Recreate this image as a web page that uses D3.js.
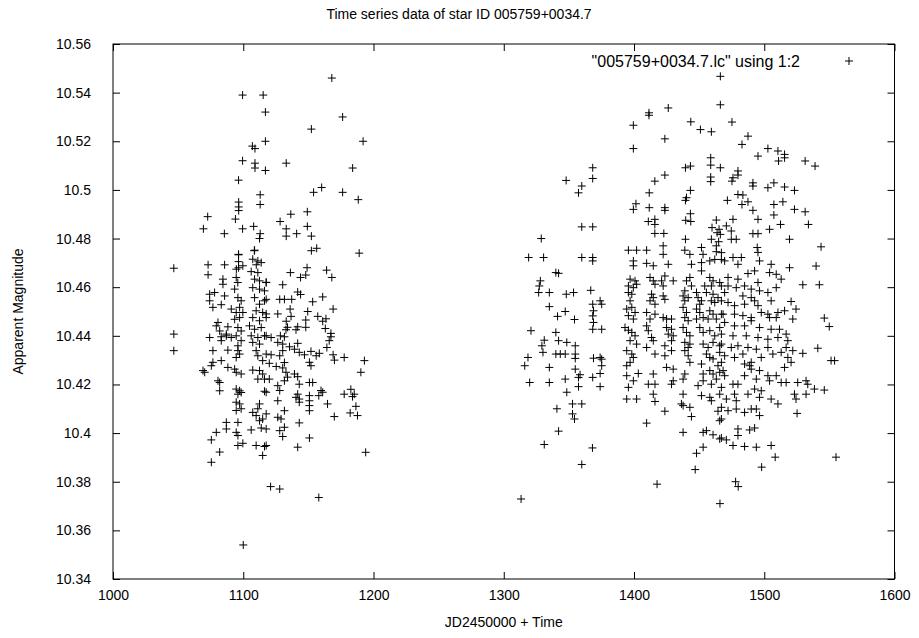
<!DOCTYPE html>
<meta charset="utf-8">
<style>
    body { margin: 0; background: #fff; }
    svg { display: block; font-family: "Liberation Sans", Arial, sans-serif; }
    .frame { fill: none; stroke: #000; stroke-width: 1px; }
    .tick line { stroke: #000; }
    .tick text { font-size: 14px; fill: #000; }
    .pt { fill: none; stroke: #000; stroke-width: 1px; }
    .lbl { font-size: 14px; fill: #000; }
</style>
<svg width="919" height="638"></svg>
<script src="https://d3js.org/d3.v7.min.js"></script>
<script>
    // three observing seasons, [JD-2450000, magnitude]
    var season1 = [
        [1099.5,10.539],[1115.3,10.539],[1117,10.532],[1117,10.520],[1107,10.518],[1109,10.517],[1099.5,10.512],[1109,10.511],[1109,10.509],[1117,10.508],
        [1096.4,10.504],[1113,10.498],[1096.5,10.495],[1096.5,10.493],[1096.5,10.4915],[1113,10.494],[1072.7,10.489],[1094,10.488],[1069.4,10.484],[1085.5,10.482],
        [1099.5,10.484],[1108,10.485],[1113,10.482],[1112.5,10.480],[1096.4,10.4735],[1108.5,10.475],
        [1168,10.546],[1176.3,10.530],[1152.3,10.525],[1192,10.520],[1133,10.511],[1184,10.509],[1154,10.499],[1160.2,10.501],[1176.3,10.499],[1188.3,10.496],
        [1136.5,10.490],[1128.3,10.487],[1149.2,10.491],[1133,10.484],[1133,10.481],[1141,10.482],[1149.2,10.485],[1152.3,10.481],[1152.3,10.475],[1156.4,10.476],[1189,10.474],
        [1136.2,10.466],[1149,10.468],[1144,10.464],[1148,10.465],[1164,10.467],[1168,10.464],[1130.3,10.461],[1117.6,10.462],[1141.8,10.458],[1144,10.457],
        [1128,10.455],[1131.6,10.455],[1137.2,10.455],[1153.3,10.454],[1161,10.456],[1117.6,10.455],[1169,10.451],[1136,10.451],[1149.5,10.450],[1126.5,10.449],
        [1117.6,10.449],[1136.7,10.448],[1133,10.446],[1148,10.4465],[1157.2,10.448],[1163.5,10.447],[1161,10.446],[1134,10.4435],[1141.8,10.4437],[1148,10.4435],
        [1132.8,10.4425],[1140.5,10.4425],[1163,10.443],[1167.3,10.441],[1167.3,10.4396],[1166,10.438],[1128.5,10.440],[1117.6,10.440],[1121.4,10.4393],[1131.6,10.4396],
        [1126.5,10.4373],[1130.3,10.4366],[1135.5,10.4355],[1139.3,10.4345],[1130.3,10.4339],[1141.8,10.4369],[1143,10.4332],[1147,10.4322],[1164.2,10.4352],[1158.4,10.4328],
        [1156,10.4318],[1152,10.4336],[1169,10.4322],[1170,10.430],[1177.5,10.4311],[1193,10.4298],[1121.4,10.4322],[1128,10.4318],[1120,10.4287],[1131.6,10.429],
        [1125.3,10.4274],[1130.3,10.4268],[1150.8,10.4291],[1152,10.4277],[1190.3,10.425],[1132.8,10.425],[1139.3,10.4243],[1134,10.423],[1141.8,10.4232],[1120,10.4222],
        [1131.6,10.4215],[1150.8,10.4208],[1153.3,10.4208],[1143,10.4201],[1126.5,10.4195],[1128,10.4175],[1117.6,10.4168],[1141.8,10.416],[1140.5,10.4147],[1143,10.414],
        [1143,10.4127],[1159.7,10.4175],[1161,10.4168],[1158,10.4154],[1150.8,10.4154],[1150.8,10.4133],[1150.8,10.4113],[1177.5,10.416],[1182.6,10.418],[1185.2,10.416],
        [1183.9,10.415],[1164.7,10.412],[1186.5,10.411],[1182.1,10.4083],[1187.7,10.4072],[1169.9,10.4068],[1126.5,10.4133],[1131.6,10.4092],[1126.5,10.4065],[1129,10.4058],
        [1150.8,10.4092],[1143,10.4042],[1131.6,10.4024],[1128,10.401],[1130.3,10.3986],[1117.6,10.4079],[1117.6,10.4017],[1117.6,10.3949],[1150.8,10.398],[1141.8,10.3942],[1194,10.3921],
        [1046.7,10.4678],[1046.7,10.4407],[1046.7,10.4339],[1073,10.4692],[1073,10.4651],[1085.7,10.4692],[1096.4,10.4733],[1096.4,10.4705],[1096.4,10.468],[1094.7,10.4674],
        [1099.7,10.4688],[1108.7,10.4752],[1107.3,10.4715],[1111.2,10.4708],[1110,10.4692],[1113.8,10.4701],[1106.1,10.4664],[1111.2,10.466],
        [1084.4,10.4633],[1084.4,10.4612],[1094.6,10.464],[1095.8,10.4619],[1093.4,10.4592],[1108.7,10.4633],[1112.5,10.4626],[1117.6,10.4619],[1107.3,10.4598],[1112.5,10.4592],[1116.3,10.4585],
        [1074.2,10.4571],[1078,10.4578],[1085.7,10.4564],[1074.2,10.4544],[1076.7,10.4517],[1083.1,10.4528],[1090.8,10.451],
        [1095.9,10.4557],[1098.4,10.4544],[1097.2,10.4517],[1094.6,10.4496],[1099.7,10.4496],[1097.2,10.4475],[1093.4,10.4468],
        [1108.7,10.4557],[1112.5,10.453],[1116.3,10.4544],[1109.9,10.4503],[1114.9,10.4496],[1107.3,10.4475],[1112.5,10.4462],[1117.6,10.4475],
        [1080.6,10.4455],[1079.3,10.4441],[1081.9,10.442],[1088.2,10.4437],[1087,10.4407],[1083.1,10.4396],[1090.8,10.4393],
        [1095.9,10.4434],[1098.4,10.442],[1094.6,10.44],[1098.4,10.438],[1095.9,10.4359],
        [1104.8,10.4441],[1108.7,10.4427],[1113.8,10.4434],[1106.1,10.44],[1111.2,10.4393],[1116.3,10.44],[1107.3,10.4373],[1112.5,10.4366],
        [1074.2,10.4393],[1083.1,10.438],[1087,10.44],[1076.7,10.4339],[1088.2,10.4341],[1095.9,10.4339],[1097.2,10.4325],[1094.6,10.4311],
        [1109.9,10.4339],[1117.6,10.4325],[1111.2,10.4318],[1114.9,10.4298],
        [1083.1,10.4298],[1076.7,10.4291],[1075.5,10.4277],[1069.1,10.4257],[1070.4,10.425],[1088.2,10.427],[1093.4,10.4263],[1094.6,10.425],[1098.4,10.4243],
        [1107.3,10.4259],[1112.5,10.4257],[1114.9,10.4243],[1111.2,10.4222],[1116.3,10.4222],[1080.6,10.4215],[1081.9,10.4208],[1081.9,10.4174],
        [1094.6,10.4181],[1097.2,10.4174],[1095.9,10.416],[1098.4,10.4167],[1116.3,10.4172],[1094.6,10.4127],[1097.2,10.412],[1094.6,10.4093],[1098.4,10.41],
        [1107.3,10.4085],[1111.2,10.41],[1112.5,10.412],[1109.9,10.4072],[1114.9,10.4058],[1112.5,10.4051],
        [1087,10.4044],[1087,10.4017],[1095.9,10.4044],[1079.3,10.4003],[1075.5,10.3972],[1094.6,10.4003],[1095.9,10.399],[1106.1,10.4013],[1113.8,10.4021],
        [1095.9,10.3949],[1099.7,10.3958],[1109.9,10.3949],[1116.3,10.3945],[1114.9,10.3908],[1081.9,10.3922],[1075.5,10.388],
        [1121,10.378],[1128,10.377],[1158,10.3735],[1100,10.354]
    ];

    var season2 = [
        [1368.3,10.5091],[1368.3,10.5047],[1347.9,10.5039],[1359.9,10.5016],[1357.4,10.4988],[1359.9,10.4848],[1368.3,10.4848],[1328.8,10.48],
        [1319.1,10.4722],[1330.6,10.4722],[1359.9,10.4722],[1368.3,10.4722],[1368.3,10.4708],[1340,10.466],[1342.1,10.4657],
        [1328.1,10.4626],[1327.3,10.4605],[1326.8,10.4578],[1335,10.4578],[1348,10.4571],[1353.6,10.4578],[1366.8,10.4587],
        [1335,10.452],[1374,10.4544],[1375.2,10.453],[1368.3,10.453],[1368.9,10.4503],[1347.2,10.45],[1341.3,10.448],[1354.3,10.4467],
        [1368.3,10.4482],[1368.9,10.4455],[1368.3,10.4427],[1375.2,10.4427],
        [1320.9,10.4421],[1340,10.4414],[1331.1,10.4382],[1342.1,10.438],[1348.4,10.4373],[1329.3,10.4359],[1354.9,10.4359],
        [1330.1,10.4332],[1340,10.4325],[1343.4,10.4325],[1347.2,10.4325],[1354.9,10.4325],[1354.9,10.4307],[1374,10.4311],[1368.9,10.4308],[1375.2,10.4304],
        [1318.6,10.4311],[1316.1,10.4277],[1335,10.427],[1354.9,10.4263],[1375.2,10.4277],[1374,10.4245],[1358.6,10.424],[1357.4,10.4229],[1368.3,10.4229],
        [1319.9,10.4208],[1335,10.4208],[1347.2,10.4222],[1357.4,10.4191],[1374,10.4191],[1348.4,10.4168],
        [1352.8,10.412],[1359.9,10.412],[1340.8,10.41],[1352.8,10.4079],[1354.3,10.4058],[1342.1,10.4008],[1331.1,10.3953],[1368.1,10.3939],[1359.9,10.3871],[1313.3,10.3729]
    ];

    var season3 = [
        [1466.3,10.5467],[1466.3,10.535],[1426.3,10.5337],[1411.5,10.5317],[1411.5,10.5307],[1399.5,10.5266],[1443.6,10.528],[1451,10.5248],[1459.4,10.5239],[1423.7,10.521],
        [1399.5,10.517],[1458.9,10.5132],[1458.9,10.5102],[1466.3,10.5091],[1439.5,10.5091],[1443.3,10.5098],[1458.9,10.5053],[1458.9,10.5034],[1416,10.5036],[1423.7,10.5061],
        [1411.7,10.4988],[1443.3,10.4998],[1440.3,10.4968],[1439.5,10.4957],[1401.5,10.4943],[1399.5,10.492],[1411.7,10.4927],[1423.7,10.4927],[1423.7,10.4916],[1443.3,10.4902],
        [1439.7,10.4875],[1443.6,10.487],[1416,10.4879],[1411,10.487],[1416,10.4858],[1463.2,10.4876],[1459.9,10.4845],[1465.3,10.4838],[1463.8,10.4824],[1466.3,10.4817],
        [1416,10.4821],[1422.9,10.4821],[1439.5,10.4797],[1459.4,10.4797],[1465,10.4787],[1463.2,10.477],[1395.7,10.4752],[1402,10.4752],[1409.7,10.4752],[1422.4,10.477],
        [1422.4,10.4735],[1439,10.4752],[1442.9,10.4735],[1451.8,10.4763],[1453,10.4735],[1463.2,10.4746],
        [1399.5,10.4708],[1399.5,10.4688],[1409.7,10.4698],[1414.8,10.4688],[1426.3,10.4694],[1444.1,10.4694],[1451.8,10.4701],[1451.8,10.4667],[1458.2,10.4708],[1462,10.4714],[1467.1,10.4714],
        [1397,10.4633],[1400.8,10.4626],[1402,10.4612],[1395.7,10.4605],[1399.5,10.4598],[1412.3,10.464],[1414.8,10.4626],[1416.1,10.4612],[1423.7,10.4646],[1421.2,10.4626],
        [1422.4,10.4605],[1430.1,10.4626],[1442.9,10.464],[1440.3,10.4626],[1444.1,10.4605],[1458.2,10.464],[1460.7,10.4626],[1459.4,10.4605],[1465.8,10.4619],[1454.3,10.4605],
        [1395.7,10.4578],[1398.3,10.4571],[1397,10.4544],[1413.5,10.4571],[1414.8,10.4557],[1412.3,10.4544],[1422.4,10.4564],[1423.7,10.455],[1416.1,10.453],[1439,10.4585],
        [1437.7,10.4564],[1441.6,10.4557],[1439,10.4544],[1448,10.4578],[1449.2,10.4557],[1451.8,10.4544],[1450.5,10.453],[1455.6,10.4578],[1460.7,10.4571],[1464.5,10.4557],[1459.4,10.4544],[1462,10.4537],
        [1394.4,10.451],[1398.3,10.4517],[1400.8,10.4496],[1395.7,10.4483],[1399.5,10.4469],[1409.7,10.4496],[1416.1,10.4489],[1412.3,10.4469],[1422.4,10.4475],[1425,10.4469],
        [1428.8,10.4469],[1437.7,10.4517],[1440.3,10.4496],[1439,10.4475],[1441.6,10.4462],[1448,10.451],[1450.5,10.4496],[1453.1,10.4475],[1448,10.4469],[1458.2,10.4503],
        [1460.7,10.4489],[1463.2,10.4469],[1456.9,10.4469],[1467.1,10.4489],
        [1393.1,10.4434],[1395.7,10.4423],[1398.3,10.4414],[1400.8,10.44],[1409.7,10.4441],[1411,10.4421],[1413.5,10.4393],[1425,10.4434],[1428.8,10.4427],[1426.3,10.4407],
        [1430.1,10.44],[1437.7,10.4434],[1440.3,10.4414],[1442.9,10.44],[1450.5,10.4434],[1453.1,10.4414],[1458.2,10.4421],[1462,10.44],[1465.8,10.4434],[1467.1,10.4407],
        [1397,10.438],[1402,10.4366],[1409.7,10.4352],[1414.8,10.438],[1423.7,10.4359],[1428.8,10.438],[1439,10.4373],[1441.6,10.4352],[1442.9,10.4366],[1453.1,10.4366],
        [1456.9,10.4352],[1460.7,10.4373],[1465.8,10.4359],
        [1394.4,10.4339],[1398.3,10.4325],[1399.5,10.4311],[1397,10.4291],[1394.4,10.4277],[1416.1,10.4325],[1423.7,10.4318],[1428.8,10.4339],[1439,10.4339],[1441.6,10.4318],
        [1442.9,10.4291],[1455.6,10.4325],[1458.2,10.4311],[1460.7,10.4305],[1451.8,10.4284],[1465.8,10.4332],[1467.1,10.4291],[1464.5,10.4277],
        [1425,10.427],[1430.1,10.4263],[1403.3,10.4245],[1414.8,10.4243],[1394.4,10.4236],[1399.5,10.4215],[1411,10.4201],[1416.1,10.4201],[1430.1,10.4215],[1428.8,10.4201],
        [1439,10.4243],[1437.7,10.4222],[1453.1,10.4243],[1458.2,10.4257],[1460.7,10.4243],[1465.8,10.425],[1395.7,10.4188],[1449.2,10.4195],[1453.1,10.4215],[1463.2,10.4222],[1459.4,10.4201],
        [1394.4,10.414],[1402,10.414],[1414.8,10.416],[1416.1,10.413],[1437.7,10.416],[1436.4,10.412],[1451.8,10.4154],[1458.2,10.4147],[1459.4,10.4133],[1465.8,10.416],
        [1423.7,10.409],[1437.7,10.4113],[1442.9,10.4106],[1444.1,10.4068],[1409.7,10.4041],[1464.5,10.409],[1465.8,10.4051],[1437.7,10.4003],[1453.1,10.4003],[1455.6,10.401],
        [1460.7,10.3993],[1465.8,10.3976],[1453.1,10.3942],[1448,10.3917],
        [1475.2,10.5279],[1487.5,10.5221],[1482.9,10.5187],[1502.8,10.517],[1495.2,10.5139],[1510.5,10.516],[1515.6,10.5146],[1511,10.5119],[1515.6,10.5132],[1531.4,10.5119],
        [1539,10.5098],[1479.8,10.5078],[1479.8,10.5061],[1475.2,10.5036],[1476,10.505],[1491.3,10.5029],[1491.3,10.5016],[1502.8,10.5009],[1507.4,10.5029],[1515.6,10.5012],
        [1523.2,10.4998],[1479.8,10.4981],[1483.6,10.4979],[1471.7,10.4957],[1482.9,10.494],[1487.5,10.4951],[1491.3,10.4916],[1507.4,10.494],[1514.3,10.4951],[1523.2,10.492],
        [1531.4,10.491],[1533.9,10.4858],[1507.4,10.4897],[1512.5,10.4858],[1504.1,10.4838],[1495.2,10.4879],[1476,10.4879],[1470.9,10.4852],[1474.7,10.4831],[1474.7,10.4797],
        [1478.5,10.4797],[1491.3,10.482],[1495.2,10.482],[1519.4,10.4797],[1543.6,10.4766],[1494.6,10.4763],[1495.2,10.4743],
        [1467.1,10.4742],[1476,10.4722],[1482.4,10.4722],[1496.4,10.4708],[1469.6,10.4708],[1479.8,10.4694],
        [1505.3,10.4694],[1519.4,10.468],[1539.8,10.4687],[1487.5,10.4656],[1492.6,10.4667],[1504.1,10.466],[1509.2,10.4653],[1513,10.4633],[1472.2,10.464],[1479.8,10.4633],
        [1495.2,10.4619],[1529.6,10.461],[1542.3,10.461],
        [1467.1,10.4605],[1472.2,10.4605],[1478.5,10.4598],[1484.9,10.4605],[1490,10.4592],[1496.4,10.4585],[1502.8,10.4578],[1509.2,10.4598],[1469.6,10.4578],[1483.6,10.4564],[1490,10.4557],
        [1467.1,10.4544],[1472.2,10.4537],[1477.2,10.4524],[1484.9,10.453],[1492.6,10.4544],[1495.2,10.4524],[1505.3,10.4544],[1520.6,10.4541],[1524.4,10.451],[1510.5,10.4496],
        [1515.6,10.4503],[1497.7,10.4496],[1502.8,10.4489],[1504.1,10.4475],[1509.2,10.4475],[1521.9,10.4469],[1546.1,10.4473],[1549.9,10.4438],
        [1468.4,10.4489],[1477.2,10.4489],[1483.6,10.4483],[1490,10.4475],[1469.6,10.4455],[1477.2,10.4441],[1484.9,10.4441],[1490,10.4462],[1496.4,10.4434],[1505.3,10.4427],
        [1511.7,10.4427],[1516.8,10.4407],[1476,10.44],[1486.2,10.44],[1495.2,10.4393],[1502.8,10.4386],[1510.5,10.4393],[1518.1,10.438],
        [1467.1,10.4366],[1474.7,10.4352],[1479.8,10.4359],[1487.5,10.4352],[1493.9,10.4345],[1502.8,10.4352],[1516.8,10.4352],[1521.9,10.4339],[1529.6,10.4328],[1541.1,10.4349],
        [1551.3,10.4298],[1554,10.4298],[1469.6,10.4318],[1477.2,10.4311],[1483.6,10.4325],[1490,10.4291],[1497.7,10.4311],[1506.6,10.4325],[1513,10.4332],[1518.1,10.4311],
        [1520.6,10.4291],[1515.6,10.427],
        [1468.4,10.4257],[1484.9,10.4284],[1488.8,10.4277],[1490,10.4263],[1496.4,10.4257],[1469.6,10.4236],[1484.9,10.4236],[1493.9,10.4222],[1502.8,10.4236],[1509.2,10.4236],
        [1504.1,10.4215],[1513,10.4208],[1516.8,10.4208],[1525.7,10.4208],[1532.1,10.4215],[1533.4,10.4201],[1476,10.4201],[1479.8,10.4201],[1467.1,10.4188],[1492.6,10.4181],
        [1497.7,10.4174],[1477.2,10.416],[1487.5,10.416],[1470.9,10.414],[1478.5,10.4133],[1496.4,10.4147],[1505.3,10.414],[1523.2,10.416],[1532.1,10.416],[1538.5,10.4181],
        [1546.1,10.4177],[1524.4,10.414],[1510.5,10.412],
        [1467.1,10.4106],[1472.2,10.4092],[1478.5,10.4099],[1484.9,10.4085],[1490,10.4099],[1496.4,10.4072],[1493.9,10.4099],[1467.1,10.4058],[1525.2,10.4081],[1479.8,10.4017],
        [1488.8,10.4013],[1492.6,10.4021],[1479.8,10.399],[1467.1,10.398],[1470.9,10.3972],[1476,10.3949],[1484.9,10.3945],[1493.9,10.3942],[1505.3,10.3949],[1508.4,10.3901],[1555.1,10.3901],
        [1417.7,10.379],[1447,10.385],[1478,10.380],[1480,10.378],[1466,10.371],[1498,10.386]
    ];

    var xTicks = [1000, 1100, 1200, 1300, 1400, 1500, 1600];
    var yTicks = [10.34, 10.36, 10.38, 10.4, 10.42, 10.44, 10.46, 10.48, 10.5, 10.52, 10.54, 10.56];
    var yTickLabels = ['10.34', '10.36', '10.38', '10.4', '10.42', '10.44', '10.46', '10.48', '10.5', '10.52', '10.54', '10.56'];
    var titleText = 'Time series data of star ID 005759+0034.7';
    var legendText = '"005759+0034.7.lc" using 1:2';

    var svgElem = d3.select('svg');
    var margin = { left: 113, top: 44, right: 24.5, bottom: 59 };
    var width = +svgElem.attr('width') - margin.left - margin.right;
    var height = +svgElem.attr('height') - margin.top - margin.bottom;
    var g = svgElem.append('g')
        .attr('transform', `translate(${margin.left}, ${margin.top})`);

    var x = d3.scaleLinear().domain([1000, 1600]).range([0, width]);
    var y = d3.scaleLinear().domain([10.34, 10.56]).range([height, 0]);
    var tick = 7;

    // axes, ticks pointing inward, mirrored on top/right
    g.append('g')
        .attr('transform', `translate(0, ${height})`)
        .call(d3.axisBottom(x).tickValues(xTicks).tickSize(-tick).tickPadding(11).tickFormat(d3.format('d')))
        .call(function (s) { s.select('.domain').remove(); });
    g.append('g')
        .call(d3.axisTop(x).tickValues(xTicks).tickSize(-tick).tickFormat(''))
        .call(function (s) { s.select('.domain').remove(); });
    g.append('g')
        .call(d3.axisLeft(y).tickValues(yTicks).tickSize(-tick).tickPadding(22)
            .tickFormat(function (d, i) { return yTickLabels[i]; }))
        .call(function (s) { s.select('.domain').remove(); });
    g.append('g')
        .attr('transform', `translate(${width}, 0)`)
        .call(d3.axisRight(y).tickValues(yTicks).tickSize(-tick).tickFormat(''))
        .call(function (s) { s.select('.domain').remove(); });
    g.selectAll('.tick text').attr('font-family', null).attr('font-size', null);

    g.append('rect')
        .attr('class', 'frame')
        .attr('x', 0).attr('y', 0)
        .attr('width', width).attr('height', height);

    var cross = 'M-4,0H4M0,-4V4';
    var all = season1.concat(season2, season3);
    g.selectAll('.pt')
        .data(all)
        .enter()
        .append('path')
        .attr('class', 'pt')
        .attr('transform', function (d) {
            return `translate(${x(d[0])}, ${y(d[1])})`;
        })
        .attr('d', cross);

    // legend
    g.append('text').attr('class', 'lbl')
        .attr('x', 687).attr('y', 17).attr('dy', '0.35em')
        .style('font-size', '16px')
        .attr('text-anchor', 'end').text(legendText);
    g.append('path').attr('class', 'pt')
        .attr('transform', 'translate(736, 17)').attr('d', cross);

    svgElem.append('text').attr('class', 'lbl')
        .attr('x', 459).attr('y', 14).attr('dy', '0.35em')
        .attr('text-anchor', 'middle').text(titleText);
    svgElem.append('text').attr('class', 'lbl')
        .attr('x', margin.left + width / 2).attr('y', 622).attr('dy', '0.35em')
        .attr('text-anchor', 'middle').text('JD2450000 + Time');
    svgElem.append('text').attr('class', 'lbl')
        .attr('transform', `translate(18, ${margin.top + height / 2}) rotate(-90)`)
        .attr('dy', '0.35em')
        .attr('text-anchor', 'middle').text('Apparent Magnitude');
</script>
